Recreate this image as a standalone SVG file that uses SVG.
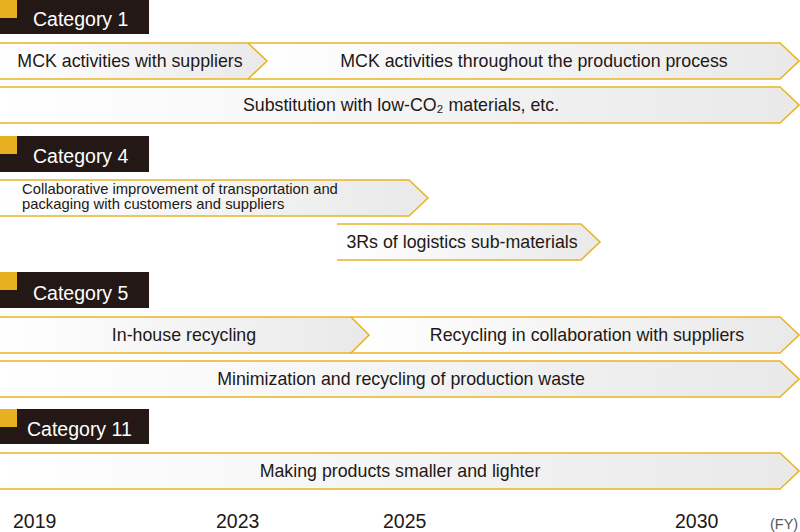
<svg xmlns="http://www.w3.org/2000/svg" width="800" height="532" viewBox="0 0 800 532">
<defs>
<linearGradient id="g" x1="0" y1="0" x2="1" y2="0">
<stop offset="0" stop-color="#ffffff"/>
<stop offset="1" stop-color="#e9e9e9"/>
</linearGradient>
<style>
.bar{fill:url(#g);stroke:#e9b424;stroke-width:1.6;stroke-linejoin:miter}
.hd{fill:#231815}
.sq{fill:#e6b020}
.ht{font-family:"Liberation Sans",Arial,sans-serif;font-size:19.5px;fill:#ffffff}
.t{font-family:"Liberation Sans",Arial,sans-serif;font-size:17.8px;fill:#231815;text-anchor:middle}
.ts{font-family:"Liberation Sans",Arial,sans-serif;font-size:14.8px;fill:#231815}
.yr{font-family:"Liberation Sans",Arial,sans-serif;font-size:19.5px;fill:#231815}
.fy{font-family:"Liberation Sans",Arial,sans-serif;font-size:14.5px;fill:#595757}
</style>
</defs>

<g id="cat1">
<rect class="hd" x="0" y="0" width="149" height="34"/>
<rect class="sq" x="0" y="0" width="17" height="18"/>
<text class="ht" x="33" y="26">Category 1</text>
</g>
<g id="cat4">
<rect class="hd" x="0" y="136" width="149" height="36"/>
<rect class="sq" x="0" y="136" width="17" height="18"/>
<text class="ht" x="33" y="163">Category 4</text>
</g>
<g id="cat5">
<rect class="hd" x="0" y="272" width="149" height="36"/>
<rect class="sq" x="0" y="272" width="17" height="18"/>
<text class="ht" x="33" y="300">Category 5</text>
</g>
<g id="cat11">
<rect class="hd" x="0" y="409" width="149" height="35"/>
<rect class="sq" x="0" y="409" width="17" height="18"/>
<text class="ht" x="27" y="436">Category 11</text>
</g>

<g id="connectors">
<g id="c1b">
<path class="bar" d="M248,43 H780 L799,61 L780,79 H248 L267,61 Z" style="stroke:none"/>
<path class="bar" d="M248,43 H780 L799,61 L780,79 H248" style="fill:none"/>
<text class="t" x="534" y="67">MCK activities throughout the production process</text>
</g>
<g id="c1a">
<path class="bar" d="M0,43 H248 L267,61 L248,79 H0"/>
<text class="t" x="130" y="67">MCK activities with suppliers</text>
</g>
<g id="c1c">
<path class="bar" d="M0,87 H780 L799,105 L780,123 H0"/>
<text class="t" x="401" y="111">Substitution with low-CO₂ materials, etc.</text>
</g>
<g id="c4a">
<path class="bar" d="M0,180 H409 L428,198 L409,216 H0"/>
<text class="ts" x="22" y="194">Collaborative improvement of transportation and</text>
<text class="ts" x="22" y="209">packaging with customers and suppliers</text>
</g>
<g id="c4b">
<path class="bar" d="M337,224 H581 L600,242 L581,260 H337"/>
<text class="t" x="462" y="248">3Rs of logistics sub-materials</text>
</g>
<g id="c5b">
<path class="bar" d="M351,317 H780 L799,335 L780,353 H351 L369,335 Z" style="stroke:none"/>
<path class="bar" d="M351,317 H780 L799,335 L780,353 H351" style="fill:none"/>
<text class="t" x="587" y="341">Recycling in collaboration with suppliers</text>
</g>
<g id="c5a">
<path class="bar" d="M0,317 H351 L369,335 L351,353 H0"/>
<text class="t" x="184" y="341">In-house recycling</text>
</g>
<g id="c5c">
<path class="bar" d="M0,361 H780 L799,379 L780,397 H0"/>
<text class="t" x="401" y="385">Minimization and recycling of production waste</text>
</g>
<g id="c11a">
<path class="bar" d="M0,453 H780 L799,471 L780,489 H0"/>
<text class="t" x="400" y="477">Making products smaller and lighter</text>
</g>
</g>

<g id="axis">
<text class="yr" x="13" y="528">2019</text>
<text class="yr" x="216" y="528">2023</text>
<text class="yr" x="383" y="528">2025</text>
<text class="yr" x="675" y="528">2030</text>
<text class="fy" x="770" y="529">(FY)</text>
</g>
</svg>
